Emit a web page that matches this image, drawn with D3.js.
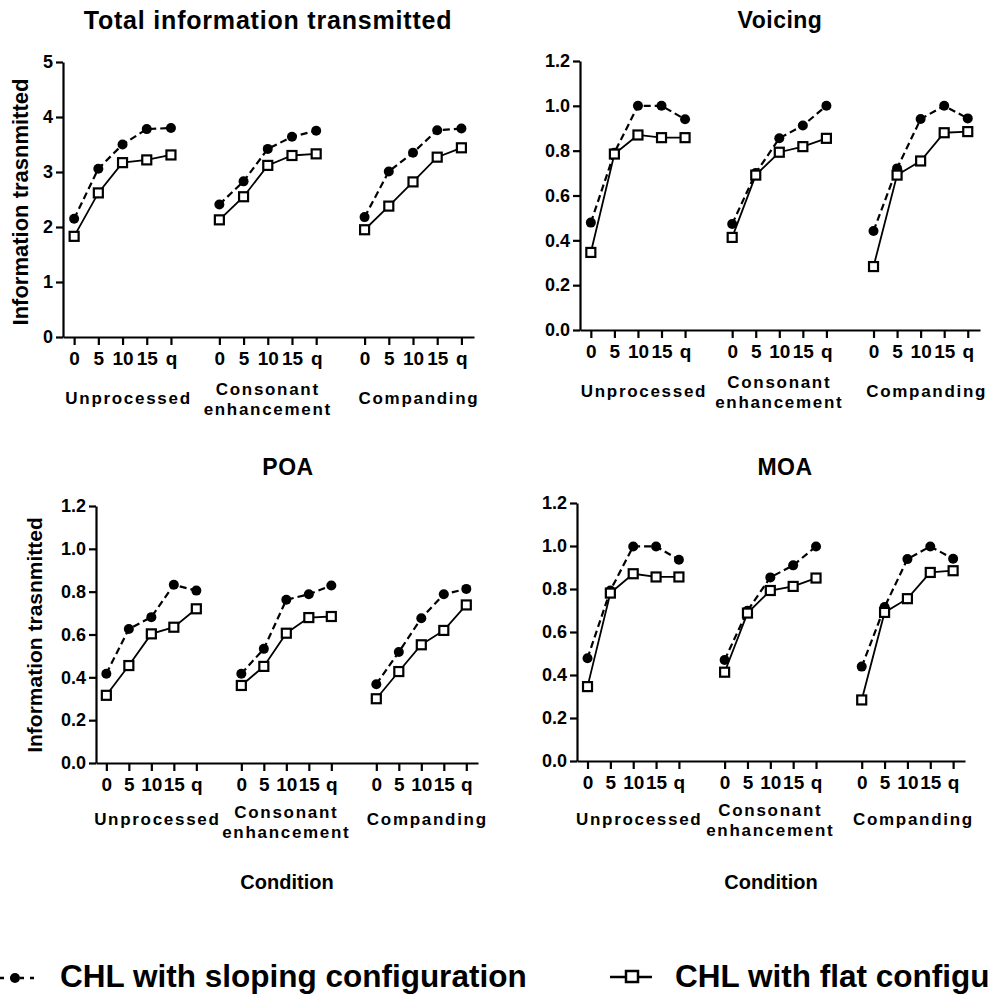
<!DOCTYPE html>
<html>
<head>
<meta charset="utf-8">
<script src="https://cdn.jsdelivr.net/npm/d3@7"></script>
<style>
  body { margin: 0; background: #fff; }
  svg text { font-family: "Liberation Sans", Arial, sans-serif; font-weight: bold; fill: #000; }
</style>
</head>
<body>
<svg id="chart" width="989" height="996"></svg>
<script>
// categories
const conditions = ['Unprocessed', 'Consonant enhancement', 'Companding'];
const snrLabels = ['0', '5', '10', '15', 'q'];
const seriesNames = ['CHL with sloping configuration', 'CHL with flat configuration'];

// values, 5 per condition (0, 5, 10, 15 dB SNR, quiet)
const totalSloping = [2.15, 3.06, 3.50, 3.78, 3.80,  2.41, 2.83, 3.42, 3.64, 3.75,  2.18, 3.01, 3.35, 3.76, 3.79];
const totalFlat    = [1.83, 2.62, 3.17, 3.22, 3.31,  2.13, 2.55, 3.12, 3.30, 3.33,  1.95, 2.38, 2.82, 3.27, 3.44];

const voicingSloping = [0.479, 0.791, 1.0, 1.0, 0.94,  0.473, 0.70, 0.855, 0.912, 1.0,  0.442, 0.721, 0.941, 1.0, 0.944];
const voicingFlat    = [0.346, 0.785, 0.870, 0.858, 0.858,  0.413, 0.691, 0.793, 0.818, 0.855,  0.283, 0.691, 0.754, 0.880, 0.885];

const poaSloping = [0.417, 0.626, 0.681, 0.832, 0.805,  0.417, 0.533, 0.762, 0.788, 0.829,  0.368, 0.518, 0.676, 0.788, 0.813];
const poaFlat    = [0.316, 0.455, 0.603, 0.634, 0.720,  0.362, 0.451, 0.606, 0.679, 0.684,  0.300, 0.427, 0.552, 0.619, 0.738];

const moaSloping = [0.478, 0.793, 0.998, 0.998, 0.936,  0.470, 0.699, 0.854, 0.910, 0.998,  0.439, 0.716, 0.939, 0.998, 0.941];
const moaFlat    = [0.346, 0.781, 0.871, 0.856, 0.856,  0.413, 0.688, 0.793, 0.812, 0.851,  0.284, 0.691, 0.755, 0.877, 0.885];

const totalTicks = [0, 1, 2, 3, 4, 5];
const propTicks = [0, 0.2, 0.4, 0.6, 0.8, 1.0, 1.2];

const svg = d3.select('#chart');

// panel layout (pixel boxes of the plot areas)
const panels = [
  { title: 'Total information transmitted', sloping: totalSloping, flat: totalFlat,
    left: 63, right: 474, top: 62, bottom: 337, yMax: 5, ticks: totalTicks, fmt: d3.format('d'),
    titleX: 268, titleY: 29, yLabel: { x: 28, y: 202, size: 22 }, condition: false, gOff: [67, 58, 78] },
  { title: 'Voicing', sloping: voicingSloping, flat: voicingFlat,
    left: 580, right: 980, top: 61, bottom: 330, yMax: 1.2, ticks: propTicks, fmt: d3.format('.1f'),
    titleX: 780, titleY: 28, yLabel: null, condition: false, gOff: [67, 58, 78] },
  { title: 'POA', sloping: poaSloping, flat: poaFlat,
    left: 96, right: 478, top: 506, bottom: 763, yMax: 1.2, ticks: propTicks, fmt: d3.format('.1f'),
    titleX: 288, titleY: 475, yLabel: { x: 42, y: 635, size: 21 }, condition: true, gOff: [62, 55, 75] },
  { title: 'MOA', sloping: moaSloping, flat: moaFlat,
    left: 577, right: 965, top: 503, bottom: 761, yMax: 1.2, ticks: propTicks, fmt: d3.format('.1f'),
    titleX: 785, titleY: 475, yLabel: null, condition: true, gOff: [64, 55, 75] }
];

// position index of every point: 0-4, 6-10, 12-16
function posIndex(i) { return Math.floor(i / 5) * 6 + (i % 5); }

panels.forEach(function (p) {
  const g = svg.append('g');

  const x = d3.scaleLinear().domain([-0.46, 16.52]).range([p.left, p.right]);
  const y = d3.scaleLinear().domain([0, p.yMax]).range([p.bottom, p.top]);

  // title
  g.append('text')
    .attr('x', p.titleX).attr('y', p.titleY)
    .attr('text-anchor', 'middle')
    .style('font-size', p.title.length > 10 ? '25px' : '23px')
    .style('letter-spacing', p.title.length > 10 ? '0.8px' : '0.5px')
    .text(p.title);

  // y axis
  const yAxis = g.append('g')
    .attr('transform', 'translate(' + p.left + ',0)')
    .call(d3.axisLeft(y).tickValues(p.ticks).tickFormat(p.fmt).tickSize(7).tickPadding(3).tickSizeOuter(0));
  yAxis.select('.domain').attr('stroke', '#000').attr('stroke-width', 2.2);
  yAxis.selectAll('.tick line').attr('stroke', '#000').attr('stroke-width', 2.2);
  yAxis.selectAll('.tick text')
    .style('font-size', '18px').style('font-family', '"Liberation Sans", Arial, sans-serif')
    .style('font-weight', 'bold').attr('fill', '#000');

  // x axis
  const tickIdx = d3.range(15).map(posIndex);
  const xAxis = g.append('g')
    .attr('transform', 'translate(0,' + p.bottom + ')')
    .call(d3.axisBottom(x).tickValues(tickIdx)
      .tickFormat(function (d) { return snrLabels[d % 6]; })
      .tickSize(8).tickPadding(7).tickSizeOuter(0));
  xAxis.select('.domain').attr('stroke', '#000').attr('stroke-width', 2.2);
  xAxis.selectAll('.tick line').attr('stroke', '#000').attr('stroke-width', 2.2);
  xAxis.selectAll('.tick text')
    .style('font-size', '19px').style('font-family', '"Liberation Sans", Arial, sans-serif')
    .style('font-weight', 'bold').attr('fill', '#000');

  // condition labels
  conditions.forEach(function (c, ci) {
    const cx = x(ci * 6 + 2) + (ci === 1 ? 0 : 6);
    const words = c.split(' ');
    const t = g.append('text')
      .attr('text-anchor', 'middle')
      .style('font-size', '17px')
      .style('letter-spacing', '1.7px');
    if (words.length === 1) {
      t.attr('x', cx).attr('y', p.bottom + p.gOff[0]).text(c);
    } else {
      t.append('tspan').attr('x', cx).attr('y', p.bottom + p.gOff[1]).text(words[0]);
      t.append('tspan').attr('x', cx).attr('y', p.bottom + p.gOff[2]).text(words[1]);
    }
  });

  // y label
  if (p.yLabel) {
    g.append('text')
      .attr('transform', 'translate(' + p.yLabel.x + ',' + p.yLabel.y + ') rotate(-90)')
      .attr('text-anchor', 'middle')
      .style('font-size', p.yLabel.size + 'px')
      .text('Information trasnmitted');
  }

  if (p.condition) {
    g.append('text')
      .attr('x', (p.left + p.right) / 2 + 0).attr('y', 889)
      .attr('text-anchor', 'middle')
      .style('font-size', '20px')
      .text('Condition');
  }

  const line = d3.line().x(function (d) { return x(d.i); }).y(function (d) { return y(d.v); });

  function toPoints(vals) {
    return vals.map(function (v, i) { return { i: posIndex(i), v: v, grp: Math.floor(i / 5) }; });
  }

  const slopePts = toPoints(p.sloping);
  const flatPts = toPoints(p.flat);

  // lines, one per condition group
  d3.range(3).forEach(function (gi) {
    g.append('path')
      .datum(slopePts.filter(function (d) { return d.grp === gi; }))
      .attr('d', line)
      .attr('fill', 'none').attr('stroke', '#000')
      .attr('stroke-width', 2.2).attr('stroke-dasharray', '7,4');
    g.append('path')
      .datum(flatPts.filter(function (d) { return d.grp === gi; }))
      .attr('d', line)
      .attr('fill', 'none').attr('stroke', '#000')
      .attr('stroke-width', 1.8);
  });

  // markers
  g.selectAll('circle.slope')
    .data(slopePts).enter().append('circle')
    .attr('class', 'slope')
    .attr('cx', function (d) { return x(d.i); })
    .attr('cy', function (d) { return y(d.v); })
    .attr('r', 5).attr('fill', '#000');

  const sq = 9;
  g.selectAll('rect.flat')
    .data(flatPts).enter().append('rect')
    .attr('class', 'flat')
    .attr('x', function (d) { return x(d.i) - sq / 2; })
    .attr('y', function (d) { return y(d.v) - sq / 2; })
    .attr('width', sq).attr('height', sq)
    .attr('fill', '#fff').attr('stroke', '#000').attr('stroke-width', 2.2);
});

// legend (the reference crops it at the right edge)
const legend = svg.append('g');
legend.append('line')
  .attr('x1', 0).attr('x2', 36).attr('y1', 978).attr('y2', 978)
  .attr('stroke', '#000').attr('stroke-width', 2.5).attr('stroke-dasharray', '4,6');
legend.append('circle').attr('cx', 15).attr('cy', 978).attr('r', 5).attr('fill', '#000');
legend.append('text').attr('x', 60).attr('y', 987).style('font-size', '31.5px').text(seriesNames[0]);

legend.append('line')
  .attr('x1', 610).attr('x2', 652).attr('y1', 977).attr('y2', 977)
  .attr('stroke', '#000').attr('stroke-width', 2.5);
legend.append('rect').attr('x', 626).attr('y', 971).attr('width', 12).attr('height', 11)
  .attr('fill', '#fff').attr('stroke', '#000').attr('stroke-width', 2.5);
legend.append('text').attr('x', 675).attr('y', 987).style('font-size', '31.5px').text(seriesNames[1]);
</script>
</body>
</html>
